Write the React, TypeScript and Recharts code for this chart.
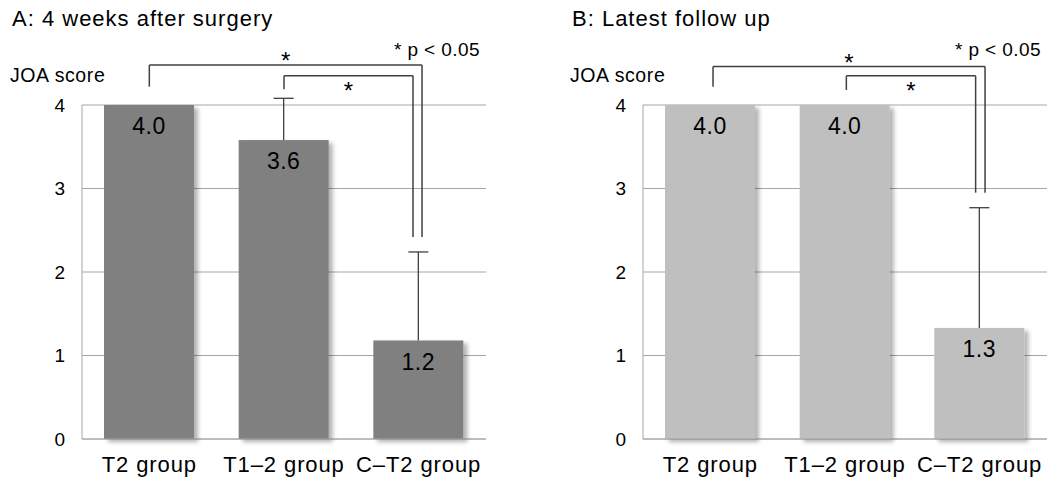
import React from "react";
import { BarChart, Bar, XAxis, YAxis, CartesianGrid, ReferenceLine, LabelList } from "recharts";

const groups = ["T2 group", "T1–2 group", "C–T2 group"];
const weeks4Mean = [4.0, 3.58, 1.18];
const weeks4Sd = [0, 0.5, 1.06];
const latestMean = [4.0, 4.0, 1.33];
const latestSd = [0, 0, 1.44];
const yTicks = [0, 1, 2, 3, 4];

// significance brackets, in data units (x = group index, y = JOA score)
const weeks4Brackets = [
  { from: 0, to: 2.025, top: 4.48, leftEnd: 4.22, rightEnd: 2.42 },
  { from: 1, to: 1.958, top: 4.35, leftEnd: 4.19, rightEnd: 2.42 },
];
const latestBrackets = [
  { from: 0.02, to: 2.04, top: 4.46, leftEnd: 4.22, rightEnd: 2.95 },
  { from: 1.01, to: 1.97, top: 4.35, leftEnd: 4.18, rightEnd: 2.95 },
];

const FONT = '"Liberation Sans", Arial, sans-serif';
const GRID = "#a6a6a6";
const INK = "#404040";

const makeShape = (shadowId: string) => (props: any) => {
  const { x, y, width, height, fill, payload } = props;
  const cx = x + width / 2;
  const perUnit = payload.mean ? height / payload.mean : 0;
  const top = y - payload.sd * perUnit;
  return (
    <g>
      <rect x={x} y={y} width={width} height={height} fill={fill} filter={`url(#${shadowId})`} />
      {payload.sd > 0 && (
        <g stroke={INK} strokeWidth={1.3}>
          <line x1={cx} y1={y} x2={cx} y2={top} />
          <line x1={cx - 10} y1={top} x2={cx + 10} y2={top} />
        </g>
      )}
    </g>
  );
};

interface PanelProps {
  title: string;
  means: number[];
  sds: number[];
  brackets: typeof weeks4Brackets;
  color: string;
  left: number;
  textLeft: number;
  axisWidth: number;
  rightMargin: number;
  shadowId: string;
}

function Panel({ title, means, sds, brackets, color, left, textLeft, axisWidth, rightMargin, shadowId }: PanelProps) {
  const data = groups.map((g, i) => ({ x: i, name: g, mean: means[i], sd: sds[i] }));

  return (
    <>
      <div style={{ position: "absolute", left: textLeft + 12, top: 8.4, fontSize: 22, lineHeight: "22px", letterSpacing: 1, whiteSpace: "nowrap" }}>
        {title}
      </div>
      <div style={{ position: "absolute", left: textLeft + 10, top: 65.5, fontSize: 19.5, lineHeight: "19.5px", letterSpacing: 0.6, whiteSpace: "nowrap" }}>
        JOA score
      </div>
      <div style={{ position: "absolute", left: left + axisWidth + 312, top: 40, fontSize: 19, lineHeight: "19px", letterSpacing: 0.4, whiteSpace: "nowrap" }}>
        * p &lt; 0.05
      </div>
      <div style={{ position: "absolute", left, top: 0 }}>
        <BarChart width={525} height={480} data={data} margin={{ top: 105, right: rightMargin, left: 0, bottom: 0 }}>
          <defs>
            <filter id={shadowId} x="-10%" y="-10%" width="130%" height="130%">
              <feDropShadow dx={4} dy={3} stdDeviation={2} floodColor="#000" floodOpacity={0.3} />
            </filter>
          </defs>
          <CartesianGrid vertical={false} stroke={GRID} />
          <XAxis
            dataKey="x"
            type="number"
            domain={[-0.5, 2.5]}
            ticks={[0, 1, 2]}
            allowDataOverflow
            tickFormatter={(v: number) => groups[v]}
            height={41}
            tickSize={0}
            tickMargin={17}
            tickLine={false}
            axisLine={{ stroke: GRID }}
            tick={{ fontSize: 22, fill: "#000", letterSpacing: 0.9 }}
          />
          <YAxis
            type="number"
            domain={[0, 4]}
            ticks={yTicks}
            width={axisWidth}
            tickSize={0}
            tickMargin={17}
            tickLine={false}
            axisLine={{ stroke: GRID }}
            tick={{ fontSize: 19, fill: "#000" }}
          />
          <Bar dataKey="mean" fill={color} barSize={90} isAnimationActive={false} shape={makeShape(shadowId)}>
            <LabelList
              dataKey="mean"
              position="insideTop"
              offset={13}
              fontSize={23}
              fill="#000"
              style={{ letterSpacing: 0.5 }}
              formatter={(v: any) => Number(v).toFixed(1)}
            />
          </Bar>
          {brackets.map((b, i) => (
            <React.Fragment key={i}>
              <ReferenceLine
                segment={[{ x: b.from, y: b.leftEnd }, { x: b.from, y: b.top }]}
                stroke={INK}
                strokeWidth={1.5}
                ifOverflow="visible"
              />
              <ReferenceLine
                segment={[{ x: b.from, y: b.top }, { x: b.to, y: b.top }]}
                stroke={INK}
                strokeWidth={1.5}
                ifOverflow="visible"
                label={
                  i === 0
                    ? { value: "*", position: "top", offset: -4, fontSize: 24, fill: "#000" }
                    : { value: "*", position: "bottom", offset: 6, fontSize: 24, fill: "#000" }
                }
              />
              <ReferenceLine
                segment={[{ x: b.to, y: b.top }, { x: b.to, y: b.rightEnd }]}
                stroke={INK}
                strokeWidth={1.5}
                ifOverflow="visible"
              />
            </React.Fragment>
          ))}
        </BarChart>
      </div>
    </>
  );
}

export default function App() {
  return (
    <div style={{ position: "fixed", left: 0, top: 0, width: 1050, height: 480, background: "#fff", fontFamily: FONT, color: "#000" }}>
      <Panel
        title="A: 4 weeks after surgery"
        means={weeks4Mean}
        sds={weeks4Sd}
        brackets={weeks4Brackets}
        color="#808080"
        left={0}
        textLeft={0}
        axisWidth={82}
        rightMargin={39}
        shadowId="shadowA"
      />
      <Panel
        title="B: Latest follow up"
        means={latestMean}
        sds={latestSd}
        brackets={latestBrackets}
        color="#bfbfbf"
        left={525}
        textLeft={560}
        axisWidth={118}
        rightMargin={3}
        shadowId="shadowB"
      />
    </div>
  );
}
